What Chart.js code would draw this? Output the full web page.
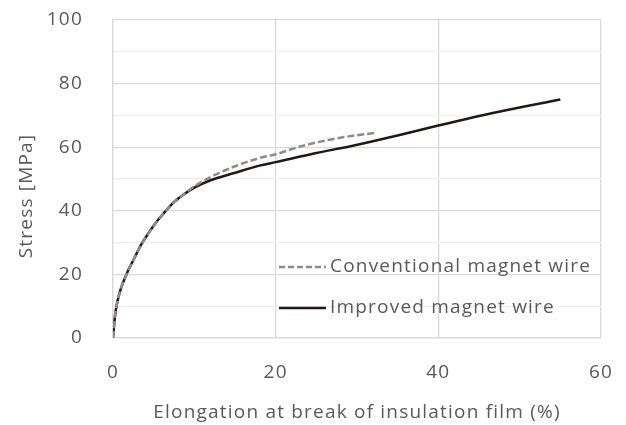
<!DOCTYPE html>
<html>
<head>
<meta charset="utf-8">
<script src="https://cdn.jsdelivr.net/npm/chart.js@4"></script>
<style>
  html, body { margin: 0; padding: 0; background: #fff; }
  #wrap { width: 626px; height: 425px; }
</style>
</head>
<body>
<div id="wrap"><canvas id="courbe"></canvas></div>
<script>
// --- données ---
const improvedX = [0, 0.25, 0.5, 0.9, 1.7, 2.5, 3.5, 4.5, 5.5, 6.6, 7.6, 8.6, 10, 12, 14.8, 18, 20, 25, 29.2, 35, 40, 47, 55];
const improvedY = [0, 7, 11, 15, 20.3, 24.5, 29.5, 33.5, 37, 40.3, 43, 45, 47.3, 49.6, 51.8, 54.2, 55.3, 58.2, 60.3, 63.7, 66.8, 70.9, 75];
const conventionalX = [0, 0.25, 0.5, 0.9, 1.7, 2.5, 3.5, 4.5, 5.5, 6.6, 7.6, 8.6, 9.5, 10.7, 12, 15, 18, 20, 23, 26.3, 29, 32.2];
const conventionalY = [0, 7, 11, 15, 20.3, 24.5, 29.5, 33.5, 37, 40.3, 43, 45, 46.8, 48.8, 50.6, 54, 56.6, 57.8, 60.2, 62.2, 63.4, 64.5];
const xTicks = [0, 20, 40, 60];
const yTicks = [0, 20, 40, 60, 80, 100];

const FONT = "'Open Sans', sans-serif";
const TXT = '#595959';
const SPACING = '1.2px';

const toPoints = (xs, ys) => xs.map((x, i) => ({ x: x, y: ys[i] }));

// legende + titre Y dessinés à la main (légende dans la zone du graphe)
const decor = {
    id: 'decor',
    beforeDraw(chart) {
        chart.ctx.letterSpacing = SPACING;
    },
    afterDraw(chart) {
        const ctx = chart.ctx;
        ctx.save();
        ctx.letterSpacing = SPACING;
        ctx.font = '19px ' + FONT;
        ctx.fillStyle = TXT;
        ctx.textBaseline = 'middle';

        const items = [
            { label: 'Conventional magnet wire', color: '#8c8c8c', dash: [6, 3], y: 267 },
            { label: 'Improved magnet wire', color: '#231815', dash: [], y: 308 }
        ];
        items.forEach(it => {
            ctx.beginPath();
            ctx.setLineDash(it.dash);
            ctx.strokeStyle = it.color;
            ctx.lineWidth = 2.5;
            ctx.moveTo(279, it.y);
            ctx.lineTo(326, it.y);
            ctx.stroke();
            ctx.setLineDash([]);
            ctx.fillText(it.label, 330, it.y);
        });

        ctx.translate(27, 196);
        ctx.rotate(-Math.PI / 2);
        ctx.textAlign = 'center';
        ctx.fillText('Stress [MPa]', 0, 0);
        ctx.restore();
    }
};

document.addEventListener('DOMContentLoaded', () => {
    new Chart(document.getElementById('courbe'), {
        type: 'line',
        data: {
            datasets: [{
                label: 'Conventional magnet wire',
                data: toPoints(conventionalX, conventionalY),
                borderColor: '#8c8c8c',
                borderWidth: 2.5,
                borderDash: [7, 3],
                pointRadius: 0,
                cubicInterpolationMode: 'monotone',
                fill: false
            }, {
                label: 'Improved magnet wire',
                data: toPoints(improvedX, improvedY),
                borderColor: '#231815',
                borderWidth: 2.5,
                pointRadius: 0,
                cubicInterpolationMode: 'monotone',
                fill: false
            }]
        },
        options: {
            responsive: true,
            maintainAspectRatio: false,
            animation: false,
            layout: { padding: { left: 0, right: 25, top: 20, bottom: 0 } },
            plugins: {
                legend: { display: false },
                tooltip: { enabled: false }
            },
            scales: {
                x: {
                    type: 'linear',
                    min: 0,
                    max: 60,
                    afterFit: s => {
                        s.height = 87;
                        s.paddingLeft = 0;
                        s.paddingRight = 0;
                    },
                    afterBuildTicks: s => { s.ticks = xTicks.map(v => ({ value: v })); },
                    grid: { color: '#d9d9d9', lineWidth: 1.3, drawTicks: false },
                    border: { color: '#d9d9d9', width: 1.3 },
                    ticks: { color: TXT, font: { family: FONT, size: 19 }, padding: 23, maxRotation: 0 },
                    title: {
                        display: true,
                        text: 'Elongation at break of insulation film (%)',
                        color: TXT,
                        font: { family: FONT, size: 19 },
                        padding: { top: 0, bottom: 1 }
                    }
                },
                y: {
                    min: 0,
                    max: 100,
                    afterFit: s => {
                        s.width = 113;
                        s.paddingTop = 0;
                        s.paddingBottom = 0;
                    },
                    ticks: {
                        stepSize: 5,
                        color: TXT,
                        font: { family: FONT, size: 19 },
                        padding: 30,
                        callback: v => (yTicks.includes(v) ? v : '')
                    },
                    grid: {
                        color: c => (yTicks.includes(c.tick.value) ? '#d9d9d9' : '#efefef'),
                        lineWidth: 1.3,
                        drawTicks: false
                    },
                    border: { color: '#d9d9d9', width: 1.3 }
                }
            }
        },
        plugins: [decor]
    });
});
</script>
</body>
</html>
